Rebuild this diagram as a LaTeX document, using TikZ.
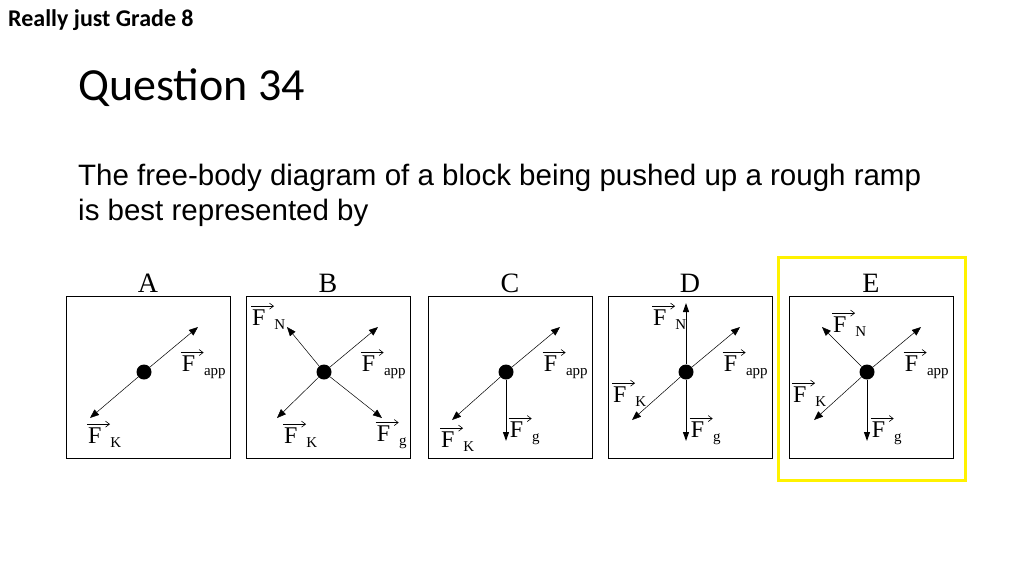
\documentclass[tikz,border=0pt]{standalone}
\usepackage{fontspec}
\setmainfont{Liberation Serif}
\newfontfamily\arial{Liberation Sans}
\newfontfamily\calib{Carlito}
\usetikzlibrary{arrows.meta}
\begin{document}
\begin{tikzpicture}[x=1pt,y=-1pt,
  panel/.style={draw,line width=0.9pt},
  force/.style={-{Triangle[length=9pt,width=7pt]},line width=0.5pt},
  vert/.style={-{Triangle[length=9pt,width=6pt]},line width=1pt},
  lab/.style={font=\fontsize{24}{26}\selectfont,inner sep=0pt},
  dot/.style={circle,fill=black,minimum size=15pt,inner sep=0pt}]
\useasboundingbox (0,0) rectangle (1024,576);
\newcommand{\vF}[1]{\tikz[baseline=0pt,x=1pt,y=1pt]{\node[anchor=base west,inner sep=0pt] (ff) at (0,0) {F};
  \draw[-{Straight Barb[length=4pt,width=6pt]},line width=0.6pt] (-1,19) -- (22,19);}\raisebox{-4pt}{\fontsize{15}{16}\selectfont #1}}
\node[anchor=west,font=\calib\bfseries\fontsize{24}{26}\selectfont,inner sep=0pt] (t1) at (8,20) {Really just Grade 8};
\node[anchor=west,font=\calib\fontsize{46}{50}\selectfont,inner sep=0pt] (t2) at (78,88) {Question 34};
\node[anchor=north west,align=left,font=\arial\fontsize{29.5}{35}\selectfont,inner sep=0pt] (t3) at (78,164) {The free-body diagram of a block being pushed up a rough ramp\\is best represented by};
\draw[yellow,line width=3pt] (778,257) rectangle (965,480);
\foreach \L/\o in {A/0,B/180,C/362,D/542,E/723}{
  \draw[panel] (66+\o,296) rectangle (230+\o,458);
  \node[font=\fontsize{28}{30}\selectfont] (let\L) at (148+\o,283) {\L};
  \node[dot] (d\L) at (144+\o,372) {};
  \coordinate (ap\L) at (198+\o,327);
  \draw[force] (d\L) -- (ap\L);
  \node[lab] (la\L) at (203+\o,364) {\vF{app}};
}
\coordinate (kA) at (90,418); \draw[force] (dA) -- (kA);
\node[lab] (lkA) at (104,434) {\vF{K}};
% B
\coordinate (nB) at (287,327); \coordinate (kB) at (277,418); \coordinate (gB) at (382,418);
\draw[force] (dB) -- (nB); \draw[force] (dB) -- (kB); \draw[force] (dB) -- (gB);
\node[lab] (lnB) at (268,316) {\vF{N}};
\node[lab] (lkB) at (300,434) {\vF{K}};
\node[lab] (lgB) at (391,434) {\vF{g}};
% C
\coordinate (kC) at (452,420); \coordinate (gC) at (506,441);
\draw[force] (dC) -- (kC); \draw[vert] (dC) -- (gC);
\node[lab] (lkC) at (457,438) {\vF{K}};
\node[lab] (lgC) at (524,430) {\vF{g}};
% D
\coordinate (nD) at (686,303); \coordinate (kD) at (632,420); \coordinate (gD) at (686,441);
\draw[vert] (dD) -- (nD); \draw[force] (dD) -- (kD); \draw[vert] (dD) -- (gD);
\node[lab] (lnD) at (669,316) {\vF{N}};
\node[lab] (lkD) at (629,393) {\vF{K}};
\node[lab] (lgD) at (705,430) {\vF{g}};
% E
\coordinate (nE) at (822,327); \coordinate (kE) at (814,420); \coordinate (gE) at (867,441);
\draw[force] (dE) -- (nE); \draw[force] (dE) -- (kE); \draw[vert] (dE) -- (gE);
\node[lab] (lnE) at (849,323) {\vF{N}};
\node[lab] (lkE) at (809,393) {\vF{K}};
\node[lab] (lgE) at (886,430) {\vF{g}};
\end{tikzpicture}
\end{document}
